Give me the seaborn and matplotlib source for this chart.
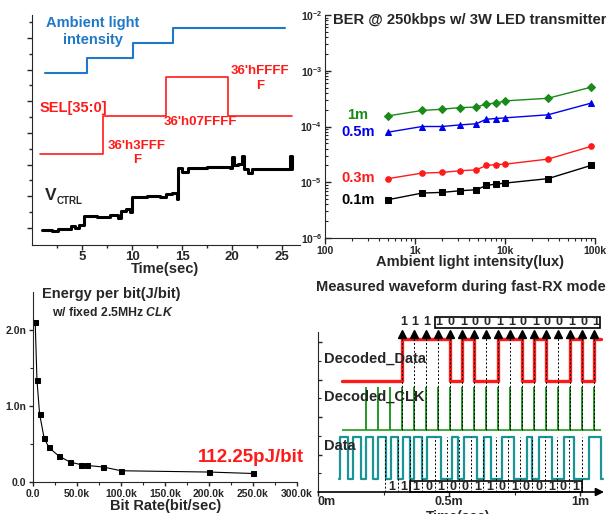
"""
Four-panel receiver summary: step response, BER, energy per bit, RX waveform
"""
import numpy as np
import pandas as pd
import matplotlib
matplotlib.use('Agg')
import matplotlib.pyplot as plt
from matplotlib.patches import Rectangle
import seaborn as sns

sns.set_style('ticks')
plt.rcParams['font.family'] = ['Liberation Sans', 'DejaVu Sans']
plt.rcParams['font.weight'] = 'bold'
plt.rcParams['mathtext.fontset'] = 'custom'
plt.rcParams['mathtext.rm'] = 'Liberation Sans:bold'
plt.rcParams['mathtext.bf'] = 'Liberation Sans:bold'
plt.rcParams['mathtext.it'] = 'Liberation Sans:bold:italic'

W, H = 606, 514
RED = '#ff1a1a'
BLUE = '#1f78c8'

# ==============================================================================
# DATA
# ==============================================================================
# top-left: levels in plot units (no scale shown)
amb_t = [1.3, 5.5, 10.1, 14.1, 25.3]
amb_v = [172, 187, 202, 217, 217]
sel_t = [0.8, 7.1, 13.4, 19.6, 26.0]
sel_v = [91, 129, 168, 129, 129]
vctrl_t = [1.0, 2.0, 2.6, 3.9, 4.3, 4.7, 5.2, 6.5, 7.8, 8.6, 8.9, 9.4, 9.8,
           10.0, 11.5, 12.8, 13.4, 14.0, 14.5, 14.6, 15.0, 15.6, 17.5, 19.8,
           20.0, 20.15, 20.6, 21.0, 21.2, 21.6, 22.0, 25.7, 25.8, 25.95, 26.0]
vctrl_v = [15, 14, 16, 19, 17, 20, 29, 28, 30, 27, 34, 36, 33,
           48, 49, 48, 51, 52, 46, 77, 73, 77, 78, 77,
           88, 80, 81, 89, 76, 72, 76, 76, 89, 76, 76]

# top-right: BER vs ambient light
lux = [500, 1200, 2000, 3200, 4800, 6200, 8000, 10000, 30000, 90000]
ber_1m = [1.55e-4, 1.94e-4, 2.04e-4, 2.19e-4, 2.22e-4, 2.55e-4, 2.62e-4, 2.88e-4, 3.21e-4, 5.06e-4]
ber_05m = [7.9e-5, 1.0e-4, 1.0e-4, 1.07e-4, 1.12e-4, 1.35e-4, 1.39e-4, 1.43e-4, 1.62e-4, 2.62e-4]
ber_03m = [1.16e-5, 1.46e-5, 1.5e-5, 1.61e-5, 1.67e-5, 2.0e-5, 2.08e-5, 2.11e-5, 2.6e-5, 4.39e-5]
ber_01m = [4.86e-6, 6.4e-6, 6.58e-6, 7.05e-6, 7.34e-6, 8.77e-6, 9.27e-6, 9.66e-6, 1.16e-5, 2.0e-5]
distances = ['1m', '0.5m', '0.3m', '0.1m']

# bottom-left: energy per bit
rate_k = [2.5, 4.5, 7.5, 12.5, 18, 29, 42, 55, 61, 80, 100, 200, 250]
energy_n = [2.10, 1.34, 0.895, 0.585, 0.454, 0.345, 0.262, 0.227, 0.218, 0.197, 0.148, 0.131, 0.112]

# bottom-right: waveform (time in ms)
clk_t = [0.183, 0.229, 0.275, 0.321, 0.366, 0.412, 0.458, 0.504, 0.550, 0.595,
         0.641, 0.687, 0.733, 0.779, 0.824, 0.870, 0.916, 0.962, 1.008, 1.053]
top_bits = [1, 1, 1, 1, 0, 1, 0, 0, 1, 1, 0, 1, 0, 0, 1, 0, 1]
data_rise = [0.084, 0.134, 0.183, 0.229, 0.279, 0.324, 0.366, 0.416, 0.511, 0.557,
             0.634, 0.702, 0.798, 0.844, 0.939, 1.034]
data_fall = [0.115, 0.164, 0.210, 0.260, 0.305, 0.351, 0.397, 0.469, 0.534, 0.607,
             0.660, 0.748, 0.817, 0.893, 0.977, 1.080]
bot_edges = [0.256, 0.305, 0.351, 0.397, 0.447, 0.492, 0.538, 0.584, 0.630, 0.679,
             0.725, 0.771, 0.817, 0.866, 0.912, 0.958, 1.008]
bot_bits = [1, 1, 1, 0, 1, 0, 0, 1, 1, 0, 1, 0, 0, 1, 0, 1]

fig = plt.figure(figsize=(W / 100, H / 100), dpi=100)


def rect(l, t, r, b):
    return [l / W, 1 - b / H, (r - l) / W, (b - t) / H]


def ftext(px, py, s, **kw):
    kw.setdefault('fontweight', 'bold')
    kw.setdefault('va', 'center')
    fig.text(px / W, 1 - py / H, s, **kw)


# ==============================================================================
# PANEL 1: step response
# ==============================================================================
ax1 = fig.add_axes(rect(32, 15, 300, 245))
sns.lineplot(x=amb_t, y=amb_v, drawstyle='steps-post', color=BLUE, lw=1.5, ax=ax1)
sns.lineplot(x=sel_t, y=sel_v, drawstyle='steps-post', color=RED, lw=1.2, ax=ax1)
sns.lineplot(x=vctrl_t, y=vctrl_v, drawstyle='steps-post', color='k', lw=2.2, ax=ax1)
ax1.set_xlim(0, 26.8)
ax1.set_ylim(0, 230)
ax1.set_xticks([5, 10, 15, 20, 25])
ax1.set_xticks([2.5, 7.5, 12.5, 17.5, 22.5], minor=True)
ax1.set_yticks(np.arange(17, 230, 31.7))
ax1.set_yticks(np.arange(33, 230, 31.7), minor=True)
ax1.set_yticklabels([])
ax1.tick_params(which='major', length=3.5, width=1, labelsize=9.5, pad=0.5)
ax1.tick_params(which='minor', length=2, width=1)
sns.despine(ax=ax1)

ftext(93, 23, 'Ambient light', color=BLUE, fontsize=10.5, ha='center')
ftext(93, 40, 'intensity', color=BLUE, fontsize=10.5, ha='center')
ftext(40, 108, 'SEL[35:0]', color=RED, fontsize=10.5)
ftext(137, 146, "36'h3FFF", color=RED, fontsize=9.5, ha='center')
ftext(137, 160, 'F', color=RED, fontsize=9.5, ha='center')
ftext(200, 122, "36'h07FFFF", color=RED, fontsize=9.5, ha='center')
ftext(260, 71, "36'hFFFF", color=RED, fontsize=9.5, ha='center')
ftext(260, 86, 'F', color=RED, fontsize=9.5, ha='center')
ftext(45, 196, 'V', fontsize=12.5)
ftext(57, 201, 'CTRL', fontsize=7)
ftext(165, 269, 'Time(sec)', fontsize=10.5, ha='center')

# ==============================================================================
# PANEL 2: BER
# ==============================================================================
ax2 = fig.add_axes(rect(325, 15, 595, 238))
ax2.set_xscale('log')
ax2.set_yscale('log')
ber = pd.DataFrame({
    'lux': lux * 4,
    'ber': ber_1m + ber_05m + ber_03m + ber_01m,
    'dist': [d for d in distances for _ in lux],
})
palette = {'1m': '#1a8a1a', '0.5m': '#0000ee', '0.3m': '#ff1a1a', '0.1m': 'black'}
markers = {'1m': 'D', '0.5m': '^', '0.3m': 'o', '0.1m': 's'}
sns.lineplot(data=ber, x='lux', y='ber', hue='dist', style='dist', palette=palette,
             markers=markers, dashes=False, legend=False, lw=1, markersize=4, ax=ax2)
for line in ax2.get_lines():
    line.set_markeredgecolor(line.get_color())
ax2.set_xlim(100, 1e5)
ax2.set_ylim(1e-6, 1e-2)
ax2.set_xticks([100, 1000, 10000, 100000])
ax2.set_xticklabels(['100', '1k', '10k', '100k'])
ax2.set_yticks([1e-6, 1e-5, 1e-4, 1e-3, 1e-2])
ax2.set_yticklabels([r'$\mathbf{10^{-6}}$', r'$\mathbf{10^{-5}}$', r'$\mathbf{10^{-4}}$',
                     r'$\mathbf{10^{-3}}$', r'$\mathbf{10^{-2}}$'])
ax2.tick_params(axis='y', which='both', direction='in')
ax2.tick_params(which='major', length=4, width=1, labelsize=7.5, pad=2)
ax2.tick_params(which='minor', length=2, width=0.8)
ax2.set_xlabel('')
ax2.set_ylabel('')
sns.despine(ax=ax2)

ftext(333, 20, 'BER @ 250kbps w/ 3W LED transmitter', fontsize=10.6)
for lab, py in zip(distances, [115, 132, 178, 200]):
    ftext(358, py, lab, color=palette[lab], fontsize=10.5, ha='center')
ftext(470, 262, 'Ambient light intensity(lux)', fontsize=10.5, ha='center')

# ==============================================================================
# PANEL 3: energy per bit
# ==============================================================================
ax3 = fig.add_axes(rect(33, 292, 297, 482))
sns.lineplot(x=rate_k, y=energy_n, marker='s', color='k', lw=0.8, markersize=3.6,
             markeredgecolor='k', ax=ax3)
ax3.set_xlim(0, 300)
ax3.set_ylim(0, 2.5)
ax3.set_xticks([0, 50, 100, 150, 200, 250, 300])
ax3.set_xticklabels(['0.0', '50.0k', '100.0k', '150.0k', '200.0k', '250.0k', '300.0k'])
ax3.set_xticks([25, 75, 125, 175, 225, 275], minor=True)
ax3.set_yticks([0, 1, 2])
ax3.set_yticklabels(['0.0', '1.0n', '2.0n'])
ax3.set_yticks([0.5, 1.5], minor=True)
ax3.tick_params(which='major', length=3, width=1, labelsize=7.5, pad=2)
ax3.tick_params(which='minor', length=2, width=0.8)
sns.despine(ax=ax3)

ftext(42, 294, 'Energy per bit(J/bit)', fontsize=10.5)
ftext(52, 312, r'w/ fixed 2.5MHz $\mathit{CLK}$', fontsize=8.8)
ftext(198, 457, '112.25pJ/bit', color=RED, fontsize=13.5)
ftext(166, 506, 'Bit Rate(bit/sec)', fontsize=10.5, ha='center')

# ==============================================================================
# PANEL 4: measured waveform
# ==============================================================================
ax4 = fig.add_axes(rect(318, 317, 604, 492))
DD_LO, DD_HI = 111, 153
CK_LO, CK_HI = 62, 105
DA_LO, DA_HI = 13, 55
arrows = clk_t[3:]

# decoded data
dd_t = [0.090] + arrows + [1.078]
dd_v = [DD_LO] + [DD_HI if b else DD_LO for b in top_bits] + [DD_HI if top_bits[-1] else DD_LO]
ax4.plot(dd_t, dd_v, drawstyle='steps-post', color=RED, lw=2.4)

# decoded clock
ax4.hlines(CK_LO, 0.090, 1.078, color='#1f9a1f', lw=1.2)
ax4.vlines(clk_t, CK_LO, CK_HI, color='#1f9a1f', lw=1.4)

# raw data
da_t = [0.080]
da_v = [DA_LO]
for r, f in zip(data_rise, data_fall):
    da_t += [r, f]
    da_v += [DA_HI, DA_LO]
da_t.append(1.085)
da_v.append(DA_LO)
ax4.plot(da_t, da_v, drawstyle='steps-post', color='#1a9494', lw=1.6)

# sampling markers
ax4.vlines(arrows, CK_LO, 155, color='k', lw=0.7, linestyles=(0, (2, 2)))
ax4.plot(arrows, [158] * len(arrows), ls='none', marker='^', color='k', ms=6, clip_on=False)
for t, b in zip(arrows, top_bits):
    ax4.text(t + 0.004, 170, str(b), ha='center', va='center', fontsize=9, fontweight='bold')
ax4.add_patch(Rectangle((0.447, 164), 1.073 - 0.447, 11, fill=False, ec='k', lw=1.2, clip_on=False))

ax4.vlines(bot_edges, 0, DA_HI, color='k', lw=0.7, linestyles=(0, (2, 2)))
for t0, t1, b in zip(bot_edges[:-1], bot_edges[1:], bot_bits):
    ax4.text((t0 + t1) / 2, 5, str(b), ha='center', va='center', fontsize=9, fontweight='bold')
ax4.add_patch(Rectangle((bot_edges[2], 0), bot_edges[-1] - bot_edges[2], 11, fill=False,
                        ec='k', lw=1.2, clip_on=False))

ax4.set_xlim(0, 1.09)
ax4.set_ylim(0, 175)
ax4.spines['left'].set_bounds(0, 160)
for s in ['top', 'right', 'bottom']:
    ax4.spines[s].set_visible(False)
ax4.annotate('', xy=(1.09, 0), xytext=(0, 0), annotation_clip=False,
             arrowprops=dict(arrowstyle='-|>', color='k', lw=1.2, mutation_scale=12,
                             shrinkA=0, shrinkB=0))
ax4.set_xticks([0, 0.5, 1.0])
ax4.set_xticklabels(['0m', '0.5m', '1m'])
ax4.get_xticklabels()[0].set_ha('left')
ax4.set_xticks([0.25, 0.75], minor=True)
ax4.set_yticks([37.5, 75, 112.5, 150])
ax4.set_yticks([18.75, 56.25, 93.75, 131.25], minor=True)
ax4.set_yticklabels([])
ax4.tick_params(axis='y', which='both', direction='in')
ax4.tick_params(which='major', length=3, width=1, labelsize=9, pad=0)
ax4.tick_params(which='minor', length=2, width=0.8)

ftext(316, 287, 'Measured waveform during fast-RX mode', fontsize=10.5)
ftext(324, 359, 'Decoded_Data', fontsize=10.5)
ftext(324, 397, 'Decoded_CLK', fontsize=10.5)
ftext(324, 446, 'Data', fontsize=10.5)
ftext(458, 510, 'Time(sec)', fontsize=10, ha='center', va='top')

fig.savefig('out.png', dpi=100, facecolor='white')
print("saved out.png")
